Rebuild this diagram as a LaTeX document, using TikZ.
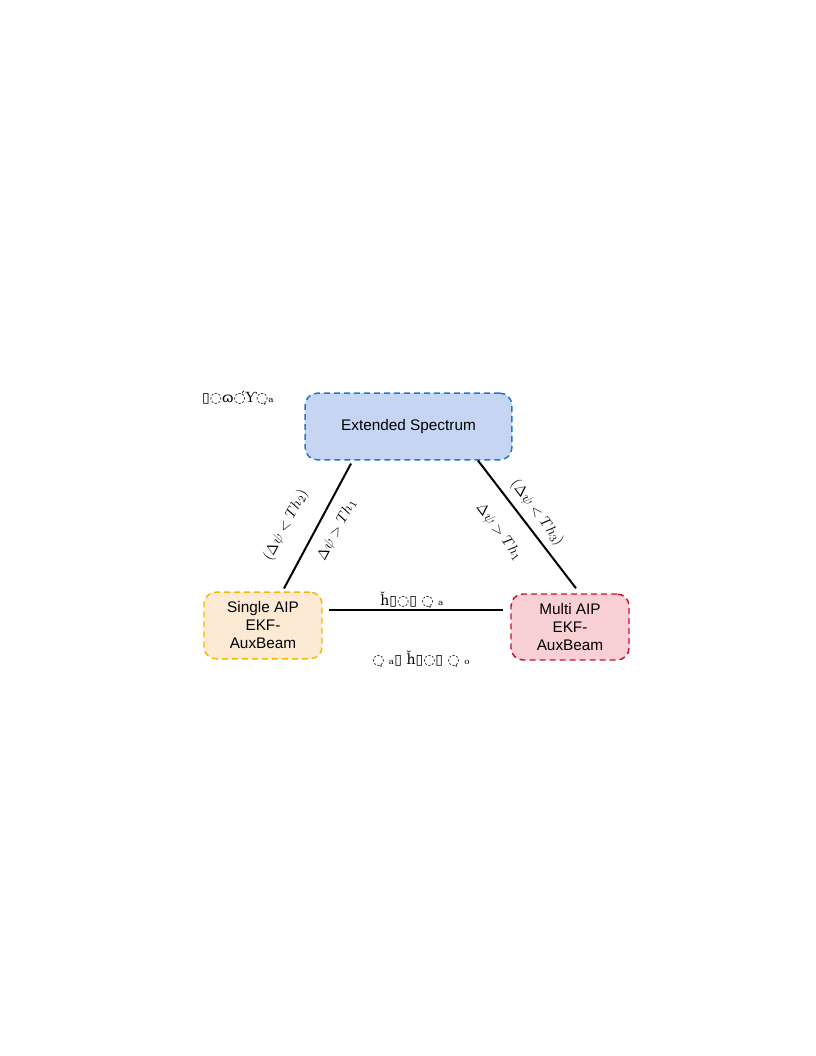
\documentclass[tikz,border=0pt]{standalone}
\usepackage{fontspec}
\setmainfont{Liberation Sans}
\newfontfamily\glyphfont{DejaVu Serif}
\usetikzlibrary{calc}
\definecolor{extfill}{HTML}{C6D5F2}
\definecolor{extdraw}{HTML}{1F78C8}
\definecolor{sglfill}{HTML}{FDEAD5}
\definecolor{sgldraw}{HTML}{F5B800}
\definecolor{mulfill}{HTML}{F8D0D4}
\definecolor{muldraw}{HTML}{C8102E}
\tikzset{
  modebox/.style={rounded corners=9pt, line width=1.1pt, dash pattern=on 4.5pt off 3pt, align=center, font=\fontsize{11.5}{13.5}\selectfont, inner sep=2pt},
  link/.style={line width=1.5pt, black},
  cond/.style={font=\fontsize{11}{12}\selectfont, inner sep=0pt},
  junk/.style={font=\glyphfont\fontsize{10.5}{11}\selectfont, inner sep=0pt}
}
\begin{document}
\begin{tikzpicture}[x=0.75pt,y=-0.75pt]
\useasboundingbox (0,0) rectangle (816,1056);
\node[modebox, fill=extfill, draw=extdraw, minimum width=155pt, minimum height=50pt] (ext) at (408.5,426.5) {Extended Spectrum};
\node[modebox, fill=sglfill, draw=sgldraw, minimum width=88.5pt, minimum height=50pt] (sgl) at (263,625.5) {Single AIP\\EKF-\\AuxBeam};
\node[modebox, fill=mulfill, draw=muldraw, minimum width=88.5pt, minimum height=49.5pt] (mul) at (570,627) {Multi AIP\\EKF-\\AuxBeam};
\coordinate (l1) at ($(ext.south)+(-57.5,3)$);
\coordinate (l2) at ($(sgl.north)+(21,-3)$);
\coordinate (r1) at ($(ext.south)+(69.5,0)$);
\coordinate (r2) at ($(mul.north)+(6,-5)$);
\coordinate (b1) at ($(sgl.east)+(6,-15.5)$);
\coordinate (b2) at ($(mul.west)+(-7,-17)$);
\draw[link] (l1) -- (l2);
\draw[link] (r1) -- (r2);
\draw[link] (b1) -- (b2);
\node[cond, rotate=62] (c1) at (286,525) {$(\Delta\psi < Th_2)$};
\node[cond, rotate=62] (c2) at (337,530) {$\Delta\psi > Th_1$};
\node[cond, rotate=-53] (c3) at (537,513) {$(\Delta\psi < Th_3)$};
\node[cond, rotate=-53] (c4) at (499,532) {$\Delta\psi > Th_1$};
\node[junk] (j1) at (238,398) {▯◌ɷ◌́Ƴ◌̣ₐ};
\node[junk] (j2) at (412,600) {ȟ▯◌▯ ◌̣ ₐ};
\node[junk] (j3) at (421,659) {◌̣ ₐ▯ ȟ▯◌▯ ◌̣ ₒ};
\end{tikzpicture}
\end{document}
